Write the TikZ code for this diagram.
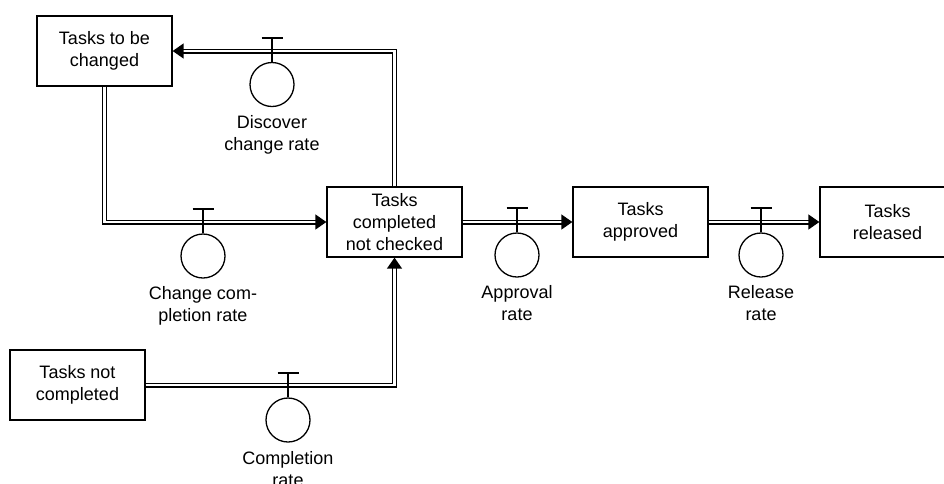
\documentclass[tikz,border=0pt]{standalone}
\usepackage{fontspec}
\setmainfont{Liberation Sans}
\usetikzlibrary{arrows.meta,positioning}
\begin{document}
\begin{tikzpicture}[x=1pt,y=-1pt,
  every node/.style={font=\fontsize{18}{22}\selectfont},
  stock/.style={draw,line width=1.3pt,minimum width=135pt,minimum height=70pt,
    align=center,inner sep=0pt},
  flow/.style={draw,line width=1.4pt,double,double distance=2.2pt,
    -{Triangle[length=11pt,width=15pt]}},
  valvebody/.style={draw,circle,line width=1.3pt,minimum size=44pt,inner sep=0pt},
  valvestem/.style={line width=1.9pt},
  ratelabel/.style={align=center,inner sep=0pt,anchor=north}]
\useasboundingbox (0,0) rectangle (944,483);

% stocks
\node[stock] (tbc)  at (104.5,51)  {Tasks to be\\changed};
\node[stock] (tcnc) at (394.5,222) {Tasks\\completed\\not checked};
\node[stock] (tap)  at (640.5,222) {Tasks\\approved};
\node[stock] (trel) at (887.5,222) {Tasks\\released};
\node[stock] (tnc)  at (77.5,385)  {Tasks not\\completed};

% flows
\draw[flow] (tcnc.north) |- (tbc.east);
\draw[flow] (tbc.south) |- (tcnc.west);
\draw[flow] (tnc.east) -| (tcnc.south);
\draw[flow] (tcnc.east) -- (tap.west);
\draw[flow] (tap.east) -- (trel.west);

% valves
\node[valvebody] (vdis) at (272,84.5) {};
\node[valvebody] (vchg) at (203,256)  {};
\node[valvebody] (vapp) at (517,255)  {};
\node[valvebody] (vrel) at (761,255)  {};
\node[valvebody] (vcom) at (288,420)  {};

\foreach \v in {vdis,vchg,vapp,vrel,vcom}{
  \draw[valvestem] (\v.north) -- ++(0,-24) ++(-10.5,0) -- ++(21,0);
}

% rate labels
\node[ratelabel,below=8pt of vdis.south] (ldis) {Discover\\change rate};
\node[ratelabel,below=8pt of vchg.south] (lchg) {Change com-\\pletion rate};
\node[ratelabel,below=8pt of vapp.south] (lapp) {Approval\\rate};
\node[ratelabel,below=8pt of vrel.south] (lrel) {Release\\rate};
\node[ratelabel,below=9pt of vcom.south] (lcom) {Completion\\rate};
\end{tikzpicture}
\end{document}
